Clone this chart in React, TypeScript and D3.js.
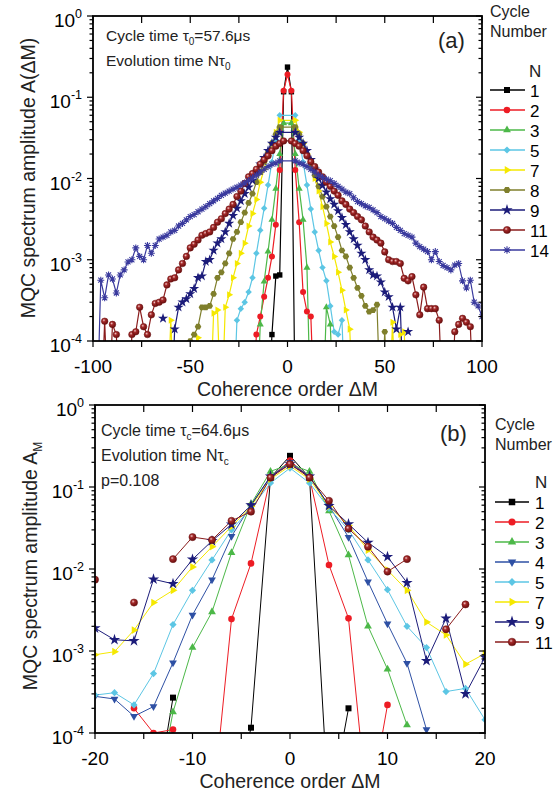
import React from 'react';
import * as d3 from 'd3';

type Pt = [number, number | null];
type Sym = 'square' | 'circle' | 'triUp' | 'triDown' | 'diamond' | 'triRight' | 'hex' | 'star' | 'sphere' | 'asterisk';

const FONT = "Arial, 'Liberation Sans', Helvetica, sans-serif";

// ---------- Panel (a) data: [ΔM, amplitude] ----------
const a1: Pt[] = [[-10, 1e-5], [-8, 1.2e-4], [-6, 6.3e-4], [-4, 6.5e-4], [-2, 0.117], [0, 0.235], [2, 0.117], [4, 1e-5]];
const a2: Pt[] = [[-18, 1e-5], [-16, 1.2e-4], [-14, 2e-4], [-12, 3.5e-4], [-10, 6e-4], [-8, 1.1e-3], [-6, 2.7e-3], [-4, 0.0127], [-2, 0.12], [0, 0.19], [2, 0.12], [4, 0.0127], [6, 2.9e-3], [8, 4e-4], [10, 2.3e-4], [12, 2e-4], [14, 1e-5]];
const a3: Pt[] = [[-16, 1e-5], [-14, 1.6e-4], [-12, 5.4e-4], [-10, 1.26e-3], [-8, 3.1e-3], [-6, 7.5e-3], [-4, 0.02], [-2, 0.048], [2, 0.048], [4, 0.02], [6, 7.5e-3], [8, 3.1e-3], [10, 8e-4], [12, 1e-5], [18, 1e-5], [20, 2.6e-4], [22, 1.6e-4], [24, 1e-5]];
const a5: Pt[] = [[-28, 1e-5], [-26, 1.8e-4], [-24, 2.5e-4], [-22, 3e-4], [-20, 4e-4], [-18, 6e-4], [-16, 1.2e-3], [-14, 2.3e-3], [-12, 4.3e-3], [-10, 8.3e-3], [-8, 0.016], [-6, 0.03], [-4, 0.06], [4, 0.06], [6, 0.03], [8, 0.016], [10, 8.3e-3], [12, 4.2e-3], [14, 2.2e-3], [16, 1.3e-3], [18, 8e-4], [20, 5.5e-4], [22, 2.7e-4], [24, 1.3e-4], [26, 1.2e-4], [28, 1.8e-4], [30, 1e-5]];
const a7: Pt[] = [[-62, 1e-5], [-60, 1.8e-4], [-58, 1e-5], [-48, 1e-5], [-46, 1.1e-4], [-44, 1e-5], [-40, 1e-5], [-38, 2.2e-4], [-36, 2.4e-4], [-34, 1e-5], [-32, 2.6e-4], [-30, 3.7e-4], [-28, 6e-4], [-26, 9e-4], [-24, 1.2e-3], [-22, 1.6e-3], [-20, 2.6e-3], [-18, 3.7e-3], [-16, 5.5e-3], [-14, 9e-3], [-12, 0.013], [-10, 0.019], [-8, 0.027], [-6, 0.037], [-4, 0.052], [4, 0.052], [6, 0.037], [8, 0.027], [10, 0.02], [12, 0.014], [14, 0.01], [16, 7e-3], [18, 4.5e-3], [20, 2.8e-3], [22, 1.65e-3], [24, 1.1e-3], [26, 7e-4], [28, 4.2e-4], [30, 2.4e-4], [32, 1.4e-4], [34, 1e-5], [52, 1e-5], [54, 1.7e-4], [56, 1e-5], [58, 1.2e-4], [60, 1.3e-4], [62, 1e-5]];
const a8: Pt[] = [[-52, 1e-5], [-50, 1e-4], [-48, 1.2e-4], [-46, 1.5e-4], [-44, 2.6e-4], [-42, 2.6e-4], [-40, 2.7e-4], [-38, 3.8e-4], [-36, 6e-4], [-34, 7e-4], [-32, 9e-4], [-30, 1.2e-3], [-28, 1.8e-3], [-26, 2.2e-3], [-24, 2.9e-3], [-22, 3.8e-3], [-20, 5e-3], [-18, 6.5e-3], [-16, 9e-3], [-14, 0.012], [-12, 0.016], [-10, 0.021], [-8, 0.027], [-6, 0.035], [-4, 0.043], [4, 0.043], [6, 0.035], [8, 0.027], [10, 0.02], [12, 0.015], [14, 0.011], [16, 8e-3], [18, 6e-3], [20, 4.5e-3], [22, 3.4e-3], [24, 2.6e-3], [26, 1.9e-3], [28, 1.3e-3], [30, 1.1e-3], [32, 8e-4], [34, 6e-4], [36, 4.5e-4], [38, 3.6e-4], [40, 2.7e-4], [42, 2.3e-4], [44, 2.4e-4], [46, 2.8e-4], [48, 1e-5], [50, 1.3e-4], [52, 1e-5]];
const a9: Pt[] = [[-64, 1.9e-4], [-62, null], [-60, 1e-5], [-58, 1.4e-4], [-56, 2.6e-4], [-54, 3e-4], [-52, 3.3e-4], [-50, 3.8e-4], [-48, 4.4e-4], [-46, 6e-4], [-44, 6.3e-4], [-42, 9.5e-4], [-40, 1e-3], [-38, 1.3e-3], [-36, 1.6e-3], [-34, 1.8e-3], [-32, 2.2e-3], [-30, 2.8e-3], [-28, 3.5e-3], [-26, 4.3e-3], [-24, 5.3e-3], [-22, 6.5e-3], [-20, 7.8e-3], [-18, 9.5e-3], [-16, 0.012], [-14, 0.015], [-12, 0.018], [-10, 0.022], [-8, 0.027], [-6, 0.032], [-4, 0.037], [4, 0.037], [6, 0.032], [8, 0.027], [10, 0.022], [12, 0.017], [14, 0.013], [16, 0.01], [18, 8.2e-3], [20, 6.8e-3], [22, 5.6e-3], [24, 4.8e-3], [26, 4e-3], [28, 3.3e-3], [30, 2.7e-3], [32, 2.2e-3], [34, 1.8e-3], [36, 1.5e-3], [38, 1.2e-3], [40, 1e-3], [42, 7.5e-4], [44, 6.5e-4], [46, 6.3e-4], [48, 5.3e-4], [50, 4e-4], [52, 3.5e-4], [54, 2.6e-4], [56, 1.4e-4], [58, 2.6e-4], [60, 1e-5], [61, null], [62, 1.3e-4]];
const a11: Pt[] = [[-96, 1e-5], [-94, 1.75e-4], [-92, 1e-5], [-90, 1.6e-4], [-88, 1.2e-4], [-86, 1e-5], [-82, 1e-5], [-80, 1.2e-4], [-78, 1.3e-4], [-76, 2.6e-4], [-74, 1.5e-4], [-72, 1.2e-4], [-70, 2.1e-4], [-68, 2.9e-4], [-66, 3e-4], [-64, 3.2e-4], [-62, 4.9e-4], [-60, 5.8e-4], [-58, 6e-4], [-56, 7.5e-4], [-54, 9e-4], [-52, 1.1e-3], [-50, 1.4e-3], [-48, 1.55e-3], [-46, 1.75e-3], [-44, 2e-3], [-42, 2.1e-3], [-40, 2.2e-3], [-38, 2.5e-3], [-36, 2.9e-3], [-34, 3.2e-3], [-32, 3.7e-3], [-30, 4.2e-3], [-28, 4.8e-3], [-26, 6e-3], [-24, 7e-3], [-22, 8.7e-3], [-20, 0.0105], [-18, 0.0115], [-16, 0.013], [-14, 0.015], [-12, 0.017], [-10, 0.019], [-8, 0.022], [-6, 0.025], [-4, 0.027], [-2, 0.029], [2, 0.029], [4, 0.027], [6, 0.025], [8, 0.022], [10, 0.019], [12, 0.016], [14, 0.014], [16, 0.012], [18, 0.0105], [20, 9e-3], [22, 8e-3], [24, 7e-3], [26, 6.2e-3], [28, 5.3e-3], [30, 4.8e-3], [32, 4.2e-3], [34, 3.8e-3], [36, 3.4e-3], [38, 3.1e-3], [40, 2.6e-3], [42, 2.2e-3], [44, 1.9e-3], [46, 1.75e-3], [48, 1.6e-3], [50, 1.25e-3], [52, 1e-3], [54, 9.5e-4], [56, 9.5e-4], [58, 9e-4], [60, 5.9e-4], [62, 5.5e-4], [64, 6.2e-4], [66, 3.7e-4], [68, 2.1e-4], [70, 4.6e-4], [72, 2.5e-4], [74, 2.5e-4], [76, 2.5e-4], [78, 1.8e-4], [80, 1e-5], [84, 1e-5], [86, 1.3e-4], [88, 1.6e-4], [90, 1.9e-4], [92, 1.7e-4], [94, 1.5e-4], [96, 1e-5]];
const a14: Pt[] = [[-98, 1e-5], [-96, 5.6e-4], [-94, 3.4e-4], [-92, 6.5e-4], [-90, 5.8e-4], [-88, 3.9e-4], [-86, 6.5e-4], [-84, 7.5e-4], [-82, 9.4e-4], [-80, 1e-3], [-78, 1.4e-3], [-76, 1.1e-3], [-74, 1e-3], [-72, 1.5e-3], [-70, 1.2e-3], [-68, 1.5e-3], [-66, 1.8e-3], [-64, 1.9e-3], [-62, 2e-3], [-60, 2.2e-3], [-58, 2.3e-3], [-56, 2.6e-3], [-54, 2.8e-3], [-52, 3.1e-3], [-50, 3.4e-3], [-48, 3.6e-3], [-46, 3.9e-3], [-44, 4.2e-3], [-42, 4.5e-3], [-40, 4.9e-3], [-38, 5.3e-3], [-36, 5.7e-3], [-34, 6.2e-3], [-32, 6.6e-3], [-30, 7e-3], [-28, 7.4e-3], [-26, 7.8e-3], [-24, 8.3e-3], [-22, 8.8e-3], [-20, 9.4e-3], [-18, 0.0102], [-16, 0.011], [-14, 0.012], [-12, 0.013], [-10, 0.014], [-8, 0.015], [-6, 0.0155], [-4, 0.0165], [4, 0.0165], [6, 0.0155], [8, 0.015], [10, 0.014], [12, 0.013], [14, 0.012], [16, 0.011], [18, 0.0103], [20, 0.0098], [22, 9.4e-3], [24, 8.7e-3], [26, 8e-3], [28, 7.4e-3], [30, 6.8e-3], [32, 6.5e-3], [34, 5.8e-3], [36, 5.2e-3], [38, 4.9e-3], [40, 4.6e-3], [42, 4.4e-3], [44, 4.1e-3], [46, 3.8e-3], [48, 3.4e-3], [50, 3.2e-3], [52, 3e-3], [54, 2.8e-3], [56, 2.5e-3], [58, 2.3e-3], [60, 2.1e-3], [62, 2e-3], [64, 1.9e-3], [66, 1.6e-3], [68, 1.45e-3], [70, 1.35e-3], [72, 1.26e-3], [74, 1e-3], [76, 1.26e-3], [78, 9.5e-4], [80, 8.5e-4], [82, 8e-4], [84, 7.5e-4], [86, 8.6e-4], [88, 9e-4], [90, 5.5e-4], [92, 4.5e-4], [94, 5.6e-4], [96, 3e-4], [98, 2.7e-4], [100, 2e-4]];

// ---------- Panel (b) data ----------
const b1: Pt[] = [[-14, 1e-5], [-12, 2.7e-4], [-10, null], [-6, 1e-5], [-4, 1.16e-4], [-2, 0.13], [0, 0.24], [2, 0.13], [4, 1e-5], [6, 2e-4]];
const b2: Pt[] = [[-16, 2e-4], [-14, 1e-4], [-12, 1.1e-4], [-10, null], [-8, 1e-5], [-6, 2.45e-3], [-4, 0.0117], [-2, 0.13], [0, 0.21], [2, 0.13], [4, 0.0112], [6, 2.5e-3], [8, 1e-5], [10, 2.2e-4]];
const b3: Pt[] = [[-14, 1e-5], [-12, 1.8e-4], [-10, 1.1e-3], [-8, 3e-3], [-6, 0.0158], [-4, 0.062], [-2, 0.155], [0, 0.19], [2, 0.155], [4, 0.051], [6, 0.0148], [8, 2e-3], [10, 6e-4], [12, 1.25e-4]];
const b4: Pt[] = [[-20, 2.8e-4], [-18, 2.6e-4], [-16, 1.6e-4], [-14, 2.1e-4], [-12, 7.2e-4], [-10, 2.75e-3], [-8, 7.4e-3], [-6, 0.025], [-4, 0.06], [-2, 0.133], [0, 0.2], [2, 0.133], [4, 0.059], [6, 0.0244], [8, 7e-3], [10, 2.15e-3], [12, 7.1e-4], [14, 1.1e-4]];
const b5: Pt[] = [[-20, 2.9e-4], [-18, 3.1e-4], [-16, 2.2e-4], [-14, 5.3e-4], [-12, 2.1e-3], [-10, 5.5e-3], [-8, 0.0129], [-6, 0.03], [-4, 0.055], [-2, 0.112], [0, 0.17], [2, 0.112], [4, 0.055], [6, 0.03], [8, 0.0129], [10, 5.6e-3], [12, 2e-3], [14, 1.1e-3], [16, 3.2e-4], [18, 3.5e-4], [20, 1.45e-4]];
const b7: Pt[] = [[-20, 9e-4], [-18, 9.8e-4], [-16, 1.8e-3], [-14, 3.9e-3], [-12, 5.5e-3], [-10, 0.0106], [-8, 0.0187], [-6, 0.033], [-4, 0.058], [-2, 0.125], [0, 0.18], [2, 0.125], [4, 0.058], [6, 0.034], [8, 0.017], [10, 9.7e-3], [12, 5.5e-3], [14, 2.25e-3], [16, 1.57e-3], [18, 6.9e-4], [20, 9.3e-4]];
const b9: Pt[] = [[-20, 1.9e-3], [-18, 1.37e-3], [-16, 1.33e-3], [-14, 7.5e-3], [-12, 6.6e-3], [-10, 0.0131], [-8, 0.022], [-6, 0.035], [-4, 0.06], [-2, 0.135], [0, 0.19], [2, 0.135], [4, 0.059], [6, 0.0354], [8, 0.021], [10, 0.0141], [12, 6.8e-3], [14, 7.6e-4], [16, 2.5e-3], [18, 3e-4], [20, 8.4e-4]];
const b11: Pt[] = [[-20, 7.4e-3], [-18, null], [-16, 3.9e-3], [-14, null], [-12, 0.0132], [-10, 0.0245], [-8, 0.0226], [-6, 0.0387], [-4, 0.05], [-2, 0.13], [0, 0.19], [2, 0.13], [4, 0.068], [6, 0.031], [8, 0.0187], [10, 9.3e-3], [12, 0.0132], [14, null], [16, 1.84e-3], [18, 3.7e-3]];

// ---------- axis ticks ----------
const xMajorA = [-100, -50, 0, 50, 100];
const xMinorA = [-75, -25, 25, 75];
const xMajorB = [-20, -10, 0, 10, 20];
const xMinorB = [-15, -5, 5, 15];

const COL: Record<number, string> = {
  1: '#000000', 2: '#ed1c24', 3: '#4cb848', 4: '#2e50a4', 5: '#5cc6e4', 7: '#f5e800',
  8: '#7f7f2c', 9: '#1c1c7a', 11: '#8a1c1c', 14: '#3a3a9e',
};
const SYM: Record<number, Sym> = {
  1: 'square', 2: 'circle', 3: 'triUp', 4: 'triDown', 5: 'diamond', 7: 'triRight',
  8: 'hex', 9: 'star', 11: 'sphere', 14: 'asterisk',
};

const seriesA: { n: number; data: Pt[] }[] = [
  { n: 1, data: a1 }, { n: 2, data: a2 }, { n: 3, data: a3 }, { n: 5, data: a5 }, { n: 7, data: a7 },
  { n: 8, data: a8 }, { n: 9, data: a9 }, { n: 11, data: a11 }, { n: 14, data: a14 },
];
const seriesB: { n: number; data: Pt[] }[] = [
  { n: 1, data: b1 }, { n: 2, data: b2 }, { n: 3, data: b3 }, { n: 4, data: b4 }, { n: 5, data: b5 },
  { n: 7, data: b7 }, { n: 9, data: b9 }, { n: 11, data: b11 },
];

function Marker({ sym, x, y, color, s }: { sym: Sym; x: number; y: number; color: string; s: number }) {
  const tr = `translate(${x},${y})`;
  switch (sym) {
    case 'square':
      return <rect x={x - s / 2} y={y - s / 2} width={s} height={s} fill={color} />;
    case 'circle':
      return <circle cx={x} cy={y} r={s / 2 + 0.3} fill={color} />;
    case 'triUp':
    case 'triDown':
    case 'triRight': {
      const side = s * 1.3;
      const p = d3.symbol(d3.symbolTriangle, (Math.sqrt(3) / 4) * side * side)() as string;
      const rot = sym === 'triUp' ? 0 : sym === 'triDown' ? 180 : 90;
      return <path d={p} transform={`${tr} rotate(${rot})`} fill={color} />;
    }
    case 'diamond': {
      const side = s * 0.85;
      return <rect x={-side / 2} y={-side / 2} width={side} height={side} transform={`${tr} rotate(45)`} fill={color} />;
    }
    case 'hex': {
      const r = s / 2 + 0.6;
      const pts = d3.range(6).map((i) => {
        const a = (Math.PI / 3) * i;
        return `${(Math.cos(a) * r).toFixed(2)},${(Math.sin(a) * r).toFixed(2)}`;
      });
      return <polygon points={pts.join(' ')} transform={tr} fill={color} />;
    }
    case 'star': {
      const p = d3.symbol(d3.symbolStar, s * s * 1.1)() as string;
      return <path d={p} transform={tr} fill={color} />;
    }
    case 'sphere':
      return <circle cx={x} cy={y} r={s / 2 + 0.6} fill="url(#sphereGrad)" stroke="#6a1010" strokeWidth={0.5} />;
    case 'asterisk': {
      const r = s / 2 + 0.8;
      const d2 = r * 0.72;
      const d = `M${-r},0L${r},0M0,${-r}L0,${r}M${-d2},${-d2}L${d2},${d2}M${-d2},${d2}L${d2},${-d2}`;
      return <path d={d} transform={tr} stroke={color} strokeWidth={1.1} fill="none" />;
    }
  }
  return null;
}

interface PanelCfg {
  id: string;
  x0: number; x1: number; yTop: number; yBot: number;
  xDomain: [number, number];
  xMajor: number[]; xMinor: number[];
  series: { n: number; data: Pt[] }[];
  mk: number; lw: number;
}

function Panel({ cfg }: { cfg: PanelCfg }) {
  const xs = d3.scaleLinear().domain(cfg.xDomain).range([cfg.x0, cfg.x1]);
  const ys = d3.scaleLog().domain([1e-4, 1]).range([cfg.yBot, cfg.yTop]);
  const line = d3.line<Pt>().defined((d) => d[1] != null).x((d) => xs(d[0])).y((d) => ys(d[1] as number));
  const yTicks = ys.ticks();
  const isMajor = (t: number) => Math.abs(Math.log10(t) - Math.round(Math.log10(t))) < 1e-6;
  const clip = `clip-${cfg.id}`;
  return (
    <g>
      <clipPath id={clip}>
        <rect x={cfg.x0} y={cfg.yTop} width={cfg.x1 - cfg.x0} height={cfg.yBot - cfg.yTop} />
      </clipPath>
      <g clipPath={`url(#${clip})`}>
        {cfg.series.map((s) => (
          <path key={'l' + s.n} d={line(s.data) || ''} fill="none" stroke={COL[s.n]} strokeWidth={cfg.lw} />
        ))}
        {cfg.series.map((s) => (
          <g key={'m' + s.n}>
            {s.data.filter((d) => d[1] != null).map((d, i) => (
              <Marker key={i} sym={SYM[s.n]} x={xs(d[0])} y={ys(d[1] as number)} color={COL[s.n]} s={cfg.mk} />
            ))}
          </g>
        ))}
      </g>
      {/* frame */}
      <rect x={cfg.x0} y={cfg.yTop} width={cfg.x1 - cfg.x0} height={cfg.yBot - cfg.yTop} fill="none" stroke="#000" strokeWidth={1.8} />
      {/* y ticks */}
      {yTicks.map((t, i) => {
        const y = ys(t);
        const L = isMajor(t) ? 6 : 3.5;
        return (
          <g key={'yt' + i} stroke="#000" strokeWidth={1.2}>
            <line x1={cfg.x0 - L} x2={cfg.x0} y1={y} y2={y} />
            <line x1={cfg.x1 - L} x2={cfg.x1} y1={y} y2={y} />
          </g>
        );
      })}
      {yTicks.filter(isMajor).map((t, i) => {
        const y = ys(t);
        const e = Math.round(Math.log10(t));
        return (
          <text key={'yl' + i} x={cfg.x0 - 11} y={y + 11} textAnchor="end" fontSize={19} fill="#000">
            10<tspan fontSize={12.5} dy={-9}>{e}</tspan>
          </text>
        );
      })}
      {/* x ticks */}
      {[...cfg.xMajor, ...cfg.xMinor].map((t, i) => (
        <g key={'xt' + i} stroke="#000" strokeWidth={1.2}>
          <line x1={xs(t)} x2={xs(t)} y1={cfg.yBot} y2={cfg.yBot + 6} />
          <line x1={xs(t)} x2={xs(t)} y1={cfg.yTop} y2={cfg.yTop + 7} />
        </g>
      ))}
      {cfg.xMajor.map((t, i) => (
        <text key={'xl' + i} x={xs(t)} y={cfg.yBot + 32} textAnchor="middle" fontSize={19} fill="#000">
          {String(t)}
        </text>
      ))}
    </g>
  );
}

function Legend({ x0, x1, xm, xt, yRow, series, mk, lw }: { x0: number; x1: number; xm: number; xt: number; yRow: number; series: { n: number }[]; mk: number; lw: number }) {
  return (
    <g>
      {series.map((s, i) => {
        const y = yRow + i * 20;
        return (
          <g key={s.n}>
            <line x1={x0} x2={x1} y1={y} y2={y} stroke={COL[s.n]} strokeWidth={lw + 0.3} />
            <Marker sym={SYM[s.n]} x={xm} y={y} color={COL[s.n]} s={mk + 1} />
            <text x={xt} y={y + 7} fontSize={17} fill="#000">{String(s.n)}</text>
          </g>
        );
      })}
    </g>
  );
}

export default function App() {
  const cfgA: PanelCfg = {
    id: 'a', x0: 93, x1: 482, yTop: 16, yBot: 341, xDomain: [-100, 100],
    xMajor: xMajorA, xMinor: xMinorA, series: seriesA, mk: 5.4, lw: 1.2,
  };
  const cfgB: PanelCfg = {
    id: 'b', x0: 95, x1: 485, yTop: 405, yBot: 733, xDomain: [-20, 20],
    xMajor: xMajorB, xMinor: xMinorB, series: seriesB, mk: 6, lw: 1,
  };
  return (
    <svg width={555} height={794} style={{ position: 'absolute', left: 0, top: 0, background: '#fff' }} fontFamily={FONT}>
      <defs>
        <radialGradient id="sphereGrad" cx="38%" cy="35%" r="65%">
          <stop offset="0" stopColor="#f0c8c8" />
          <stop offset="0.35" stopColor="#a52a2a" />
          <stop offset="1" stopColor="#6a0e0e" />
        </radialGradient>
      </defs>
      <rect x={0} y={0} width={555} height={794} fill="#fff" />

      {/* Panel (a) */}
      <Panel cfg={cfgA} />
      <text x={106} y={41} fontSize={15.5} fill="#222">
        Cycle time τ<tspan fontSize={10} dy={4}>0</tspan><tspan dy={-4}>=57.6μs</tspan>
      </text>
      <text x={106} y={66} fontSize={15.5} fill="#222">
        Evolution time Nτ<tspan fontSize={10} dy={4}>0</tspan>
      </text>
      <text x={438} y={48} fontSize={22} fill="#222">(a)</text>
      <text transform="translate(35,178) rotate(-90)" textAnchor="middle" fontSize={19.5} fill="#222">
        MQC spectrum amplitude A(ΔM)
      </text>
      <text x={287.5} y={396} textAnchor="middle" fontSize={19.5} fill="#222">Coherence order ΔM</text>
      <text x={490} y={17} fontSize={16} fill="#222">Cycle</text>
      <text x={490} y={37} fontSize={16} fill="#222">Number</text>
      <text x={529} y={77} fontSize={17} fill="#222">N</text>
      <Legend x0={490} x1={525} xm={507} xt={530} yRow={90} series={seriesA} mk={5} lw={1.2} />

      {/* Panel (b) */}
      <Panel cfg={cfgB} />
      <text x={101} y={436} fontSize={16} fill="#222">
        Cycle time τ<tspan fontSize={10} dy={4}>c</tspan><tspan dy={-4}>=64.6μs</tspan>
      </text>
      <text x={101} y={461} fontSize={16} fill="#222">
        Evolution time Nτ<tspan fontSize={10} dy={4}>c</tspan>
      </text>
      <text x={101} y={486} fontSize={16} fill="#222">p=0.108</text>
      <text x={440} y={441} fontSize={22} fill="#222">(b)</text>
      <text transform="translate(37,566) rotate(-90)" textAnchor="middle" fontSize={19.5} fill="#222">
        MQC spectrum amplitude A<tspan fontSize={12} dy={5}>M</tspan>
      </text>
      <text x={290} y={788} textAnchor="middle" fontSize={19.5} fill="#222">Coherence order ΔM</text>
      <text x={495} y={430} fontSize={16} fill="#222">Cycle</text>
      <text x={495} y={450} fontSize={16} fill="#222">Number</text>
      <text x={535} y={488} fontSize={17} fill="#222">N</text>
      <Legend x0={495} x1={529} xm={512} xt={535} yRow={502} series={seriesB} mk={5.5} lw={1} />
    </svg>
  );
}
